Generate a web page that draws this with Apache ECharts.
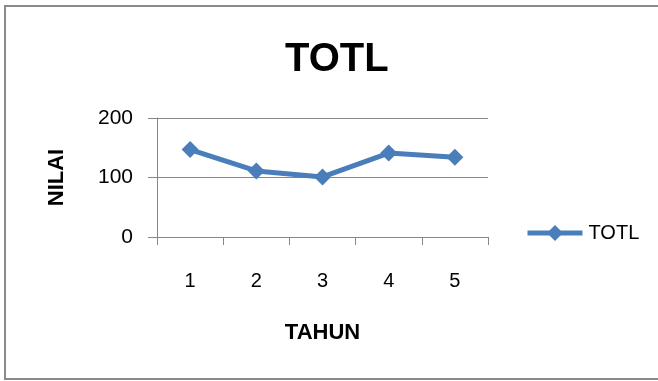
<!DOCTYPE html>
<html>
<head>
<meta charset="utf-8">
<script src="https://cdn.jsdelivr.net/npm/echarts@6/dist/echarts.min.js"></script>
<style>
html,body{margin:0;padding:0;background:#fff;}
#chart{width:658px;height:381px;}
</style>
</head>
<body>
<div id="chart"></div>
<script>
const titleText = 'TOTL';
const categories = ['1', '2', '3', '4', '5'];
const seriesName = 'TOTL';
const values = [147, 111, 101, 141, 134];
const yTicks = [0, 100, 200];
const xAxisName = 'TAHUN';
const yAxisName = 'NILAI';

const FONT = '"Liberation Sans", Arial, sans-serif';
const BLUE = '#4a7ebb';
const GRAY = '#878787';

const chart = echarts.init(document.getElementById('chart'), null, {renderer: 'canvas'});
chart.setOption({
  backgroundColor: '#ffffff',
  animation: false,
  title: {
    text: titleText,
    left: 285,
    top: 40,
    padding: 0,
    textStyle: {fontFamily: FONT, fontSize: 40, fontWeight: 'bold', color: '#000'}
  },
  graphic: [{
    type: 'rect',
    shape: {x: 5, y: 6, width: 660, height: 373},
    style: {fill: null, stroke: '#8a8a8a', lineWidth: 2},
    silent: true
  }],
  legend: {
    data: [seriesName],
    left: 525,
    top: 223,
    padding: 0,
    itemWidth: 55,
    itemHeight: 20,
    itemGap: 5,
    lineStyle: {width: 5, color: BLUE},
    textStyle: {fontFamily: FONT, fontSize: 20, color: '#000', padding: [0,0,0,1]}
  },
  grid: {left: 157, right: 170, top: 118, bottom: 144, containLabel: false},
  xAxis: {
    type: 'category',
    data: categories,
    boundaryGap: true,
    name: xAxisName,
    nameLocation: 'middle',
    nameGap: 96,
    nameTextStyle: {fontFamily: FONT, fontSize: 22, fontWeight: 'bold', color: '#000', verticalAlign: 'middle'},
    axisLine: {show: true, lineStyle: {color: GRAY, width: 1}},
    axisTick: {show: true, length: 8, alignWithLabel: false, lineStyle: {color: GRAY}},
    axisLabel: {fontFamily: FONT, fontSize: 20, color: '#000', margin: 34},
    splitLine: {show: false}
  },
  yAxis: {
    type: 'value',
    min: 0,
    max: 200,
    interval: 100,
    name: yAxisName,
    nameLocation: 'middle',
    nameRotate: 90,
    nameGap: 100,
    nameTextStyle: {fontFamily: FONT, fontSize: 22, fontWeight: 'bold', color: '#000', verticalAlign: 'middle'},
    axisLine: {show: true, lineStyle: {color: GRAY, width: 1}},
    axisTick: {show: true, length: 9, lineStyle: {color: GRAY}},
    axisLabel: {fontFamily: FONT, fontSize: 21, color: '#000', margin: 24,
      formatter: function (v) { return yTicks.indexOf(v) >= 0 ? String(v) : ''; }},
    splitLine: {show: true, lineStyle: {color: GRAY, width: 1}}
  },
  series: [{
    name: seriesName,
    type: 'line',
    data: values,
    symbol: 'diamond',
    symbolSize: 17,
    showAllSymbol: true,
    lineStyle: {color: BLUE, width: 5},
    itemStyle: {color: BLUE},
    emphasis: {disabled: true}
  }]
});
</script>
</body>
</html>
